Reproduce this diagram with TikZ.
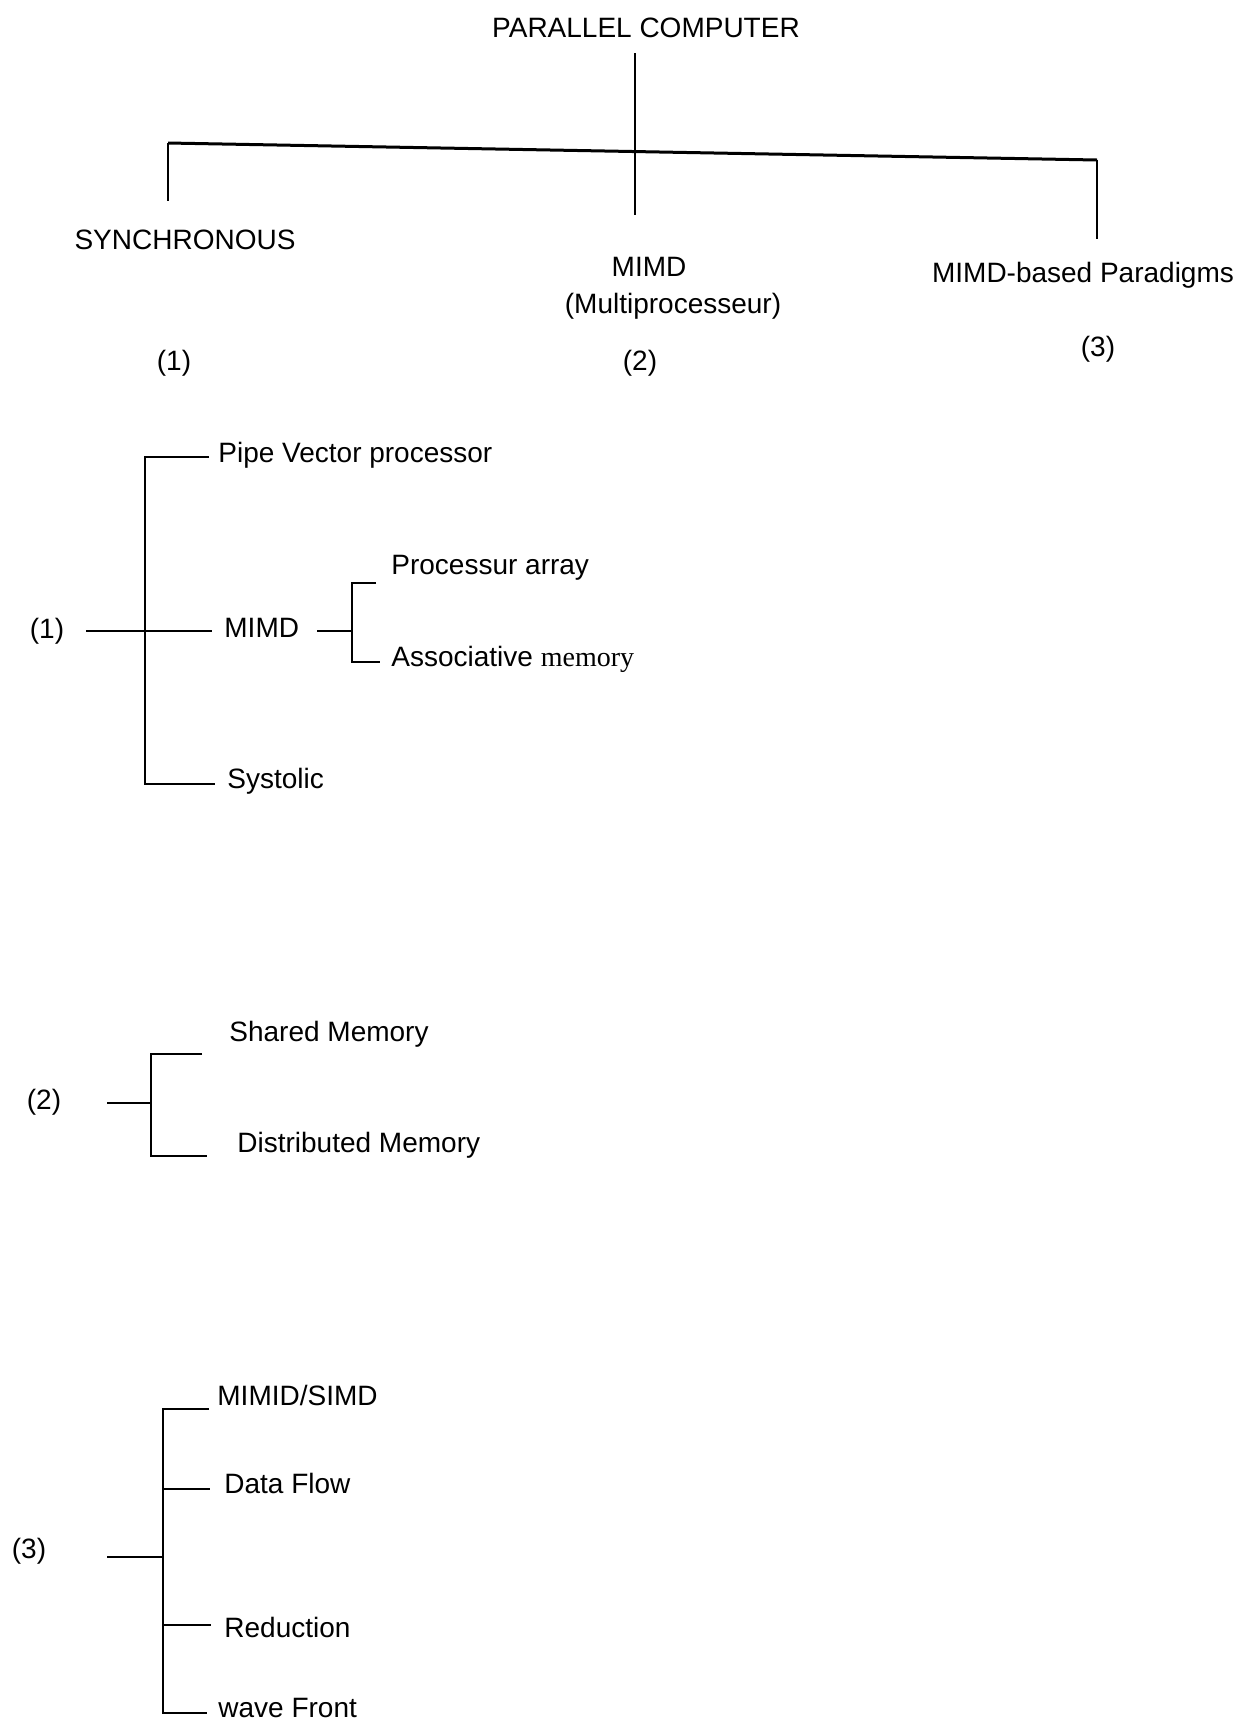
\documentclass[tikz,border=0pt]{standalone}
\usepackage{fontspec}
\setmainfont{Liberation Sans}
\newfontfamily\seriffam{Liberation Serif}
\begin{document}
\begin{tikzpicture}[x=0.5pt,y=-0.5pt,
  lbl/.style={inner sep=0pt, font=\fontsize{14}{16}\selectfont},
  leaf/.style={lbl, anchor=west},
  wire/.style={line width=1.1pt},
  crossbar/.style={line width=1.5pt}]
\useasboundingbox (0,0) rectangle (1248,1726);

% ---------- top level ----------
\node[lbl] (root) at (646,28) {PARALLEL COMPUTER};
\node[lbl] (sync) at (185,240) {SYNCHRONOUS};
\node[lbl] (mimd) at (649,267) {MIMD};
\node[lbl] (multi) at (673,306) {(Multiprocesseur)};
\node[lbl] (para) at (1083,275) {MIMD-based Paradigms};
\node[lbl] (n1) at (174,363) {(1)};
\node[lbl] (n2) at (640,363) {(2)};
\node[lbl] (n3) at (1098,349) {(3)};

\coordinate (stemtop) at (635,53);
\coordinate (stembot) at (635,215);
\coordinate (barL) at (168,143);
\coordinate (barR) at (1097,160);
\coordinate (dropL) at (168,201);
\coordinate (dropR) at (1097,239);
\draw[wire] (stemtop) -- (stembot);
\draw[crossbar] (barL) -- (barR);
\draw[wire] (barL) -- (dropL);
\draw[wire] (barR) -- (dropR);

% ---------- (1) synchronous ----------
\node[lbl] (s1) at (47,631) {(1)};
\node[leaf] (pipe) at (218,455) {Pipe Vector processor};
\node[leaf] (smimd) at (224,628) {MIMD};
\node[leaf] (sys) at (227,781) {Systolic};
\node[leaf] (parr) at (391,568) {Processur array};
\node[leaf] (assoc) at (391,659) {Associative {\seriffam memory}};

\coordinate (s1a) at (86,631);
\coordinate (s1j) at (145,631);
\coordinate (s1t) at (145,457);
\coordinate (s1b) at (145,784);
\coordinate (s1te) at (209,457);
\coordinate (s1me) at (212,631);
\coordinate (s1be) at (215,784);
\draw[wire] (s1a) -- (s1j);
\draw[wire] (s1te) -- (s1t) -- (s1b) -- (s1be);
\draw[wire] (s1j) -- (s1me);

\coordinate (m1a) at (317,631);
\coordinate (m1j) at (352,631);
\coordinate (m1t) at (352,583);
\coordinate (m1b) at (352,662);
\coordinate (m1te) at (376,583);
\coordinate (m1be) at (380,662);
\draw[wire] (m1a) -- (m1j);
\draw[wire] (m1te) -- (m1t) -- (m1b) -- (m1be);

% ---------- (2) MIMD ----------
\node[lbl] (s2) at (44,1102) {(2)};
\node[leaf] (shared) at (229,1034) {Shared Memory};
\node[leaf] (dist) at (237,1145) {Distributed Memory};

\coordinate (s2a) at (107,1103);
\coordinate (s2j) at (151,1103);
\coordinate (s2t) at (151,1054);
\coordinate (s2b) at (151,1156);
\coordinate (s2te) at (202,1054);
\coordinate (s2be) at (207,1156);
\draw[wire] (s2a) -- (s2j);
\draw[wire] (s2te) -- (s2t) -- (s2b) -- (s2be);

% ---------- (3) MIMD-based paradigms ----------
\node[lbl] (s3) at (29,1551) {(3)};
\node[leaf] (simd) at (217,1395) {MIMID/SIMD};
\node[leaf] (flow) at (224,1483) {Data Flow};
\node[leaf] (red) at (224,1627) {Reduction};
\node[leaf] (wave) at (218,1708) {wave Front};

\coordinate (s3a) at (107,1557);
\coordinate (s3j) at (163,1557);
\coordinate (s3t) at (163,1409);
\coordinate (s3b) at (163,1713);
\coordinate (s3te) at (209,1409);
\coordinate (s3f) at (163,1489);
\coordinate (s3fe) at (210,1489);
\coordinate (s3r) at (163,1625);
\coordinate (s3re) at (211,1625);
\coordinate (s3be) at (207,1713);
\draw[wire] (s3a) -- (s3j);
\draw[wire] (s3te) -- (s3t) -- (s3b) -- (s3be);
\draw[wire] (s3f) -- (s3fe);
\draw[wire] (s3r) -- (s3re);
\end{tikzpicture}
\end{document}
